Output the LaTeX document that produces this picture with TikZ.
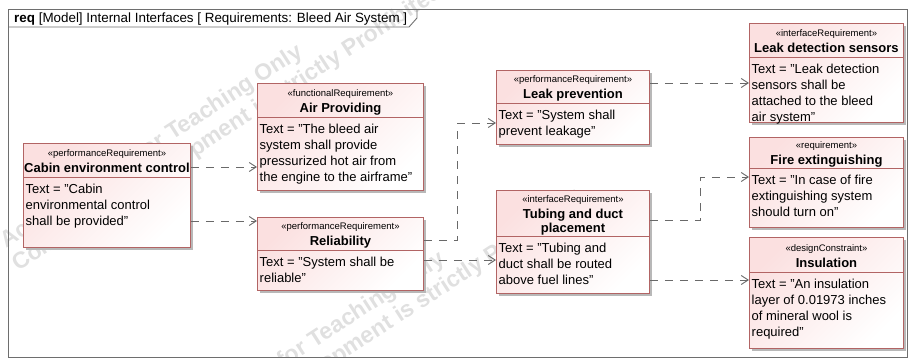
\documentclass[tikz,border=0pt]{standalone}
\usepackage{fontspec}
\setmainfont{Liberation Sans}
\usetikzlibrary{arrows.meta,shadows}

\definecolor{reqborder}{RGB}{178,100,100}
\definecolor{reqfill}{RGB}{251,224,224}
\definecolor{conncol}{RGB}{105,105,105}
\definecolor{framecol}{RGB}{110,110,110}

\tikzset{
  reqbox/.style={draw=reqborder, line width=0.9pt, top color=reqfill, bottom color=white,
    shading angle=45, inner sep=0pt,
    drop shadow={shadow xshift=2.5pt, shadow yshift=-2.5pt, fill=black!28, opacity=1}},
  sepline/.style={draw=reqborder, line width=0.9pt},
  stereo/.style={inner sep=0pt, font=\fontsize{9.5}{11}\selectfont},
  reqtitle/.style={inner sep=0pt, align=center, font=\fontsize{13}{14}\selectfont\bfseries},
  reqtext/.style={inner sep=0pt, align=left, font=\fontsize{13}{16}\selectfont},
  dep/.style={draw=conncol, line width=0.9pt, dash pattern=on 8pt off 7pt,
    -{Straight Barb[length=7pt,width=9pt,line width=0.9pt]}},
  diagframe/.style={draw=framecol, line width=0.9pt},
  wm/.style={inner sep=0pt, text=black, text opacity=0.12, font=\fontsize{23}{26}\selectfont\bfseries, rotate=33}
}

% #1 name, #2 position (top-left), #3 width, #4 height, #5 separator offset,
% #6 first title baseline offset, #7 stereotype, #8 title, #9 text
\newcommand\ReqBlock[9]{%
  \node[reqbox, minimum width=#3pt, minimum height=#4pt, anchor=north west] (#1) at #2 {};
  \draw[sepline] ([yshift=-#5pt]#1.north west) -- ([yshift=-#5pt]#1.north east);
  \node[stereo, anchor=base] (#1-st) at ([yshift={-(#6-15.5)*1pt}]#1.north) {«#7»};
  \node[reqtitle, anchor=north] (#1-ti) at ([yshift={-(#6-9.8)*1pt}]#1.north) {\strut #8};
  \node[reqtext, anchor=north west] (#1-tx) at ([xshift=2.5pt, yshift={-(#5+16-11.2)*1pt}]#1.north west) {\strut #9};
}

\begin{document}
\begin{tikzpicture}[x=1pt, y=-1pt]
\useasboundingbox (0,0) rectangle (909,358);
\clip (0,0) rectangle (909,358);

% watermark (behind everything)
\node[wm, anchor=base west] (wm1a) at (6,249) {Academic use for Teaching Only};
\node[wm, anchor=base west] (wm1b) at (18,272) {Commercial development is strictly Prohibited};
\node[wm, anchor=base west] (wm2a) at (148,456) {Academic use for Teaching Only};
\node[wm, anchor=base west] (wm2b) at (160,479) {Commercial development is strictly Prohibited};

% frame
\draw[diagframe] (8,9) rectangle (907,357);
\draw[diagframe] (8,27) -- (409,27) -- (417,18) -- (417,9);
\node[anchor=base west, inner sep=0pt, font=\fontsize{13.4}{15}\selectfont] (title) at (14,22.5)
  {\textbf{req} [Model] Internal Interfaces [ Requirements: Bleed Air System ]};

% requirement blocks
\ReqBlock{cabin}{(23,143)}{167}{104}{34}{29}{performanceRequirement}{Cabin environment control}
  {Text = "Cabin\\environmental control\\shall be provided"}
\ReqBlock{air}{(257,83)}{166}{107}{34}{29}{functionalRequirement}{Air Providing}
  {Text = "The bleed air\\system shall provide\\pressurized hot air from\\the engine to the airframe"}
\ReqBlock{rel}{(257,217)}{166}{73}{33}{28}{performanceRequirement}{Reliability}
  {Text = "System shall be\\reliable"}
\ReqBlock{leakp}{(496,70)}{153}{74}{33}{28}{performanceRequirement}{Leak prevention}
  {Text = "System shall\\prevent leakage"}
\ReqBlock{tube}{(496,190)}{153}{103}{46}{28}{interfaceRequirement}{Tubing and duct\\placement}
  {Text = "Tubing and\\duct shall be routed\\above fuel lines"}
\ReqBlock{leakd}{(749,23)}{154}{99}{34}{29}{interfaceRequirement}{Leak detection sensors}
  {Text = "Leak detection\\sensors shall be\\attached to the bleed\\air system"}
\ReqBlock{fire}{(749,137)}{154}{90}{31}{27}{requirement}{Fire extinguishing}
  {Text = "In case of fire\\extinguishing system\\should turn on"}
\ReqBlock{insul}{(749,237)}{154}{111}{35}{30}{designConstraint}{Insulation}
  {Text = "An insulation\\layer of 0.01973 inches\\of mineral wool is\\required"}

% connectors
\draw[dep] ([yshift=-24pt]cabin.north east) -- ([yshift=-24pt]cabin.north east -| air.west);
\draw[dep] ([yshift=-78pt]cabin.north east) -- ([yshift=-78pt]cabin.north east -| rel.west);
\draw[dep] ([yshift=-23pt]rel.north east) -- ++(34,0) |- ([yshift=-53pt]leakp.north west);
\draw[dep] ([yshift=-43pt]rel.north east) -- ([yshift=-43pt]rel.north east -| tube.west);
\draw[dep] ([yshift=-13pt]leakp.north east) -- ([yshift=-13pt]leakp.north east -| leakd.west);
\draw[dep] ([yshift=-30pt]tube.north east) -- ++(51,0) |- ([yshift=-40pt]fire.north west);
\draw[dep] ([yshift=-90pt]tube.north east) -- ([yshift=-90pt]tube.north east -| insul.west);
\end{tikzpicture}
\end{document}
